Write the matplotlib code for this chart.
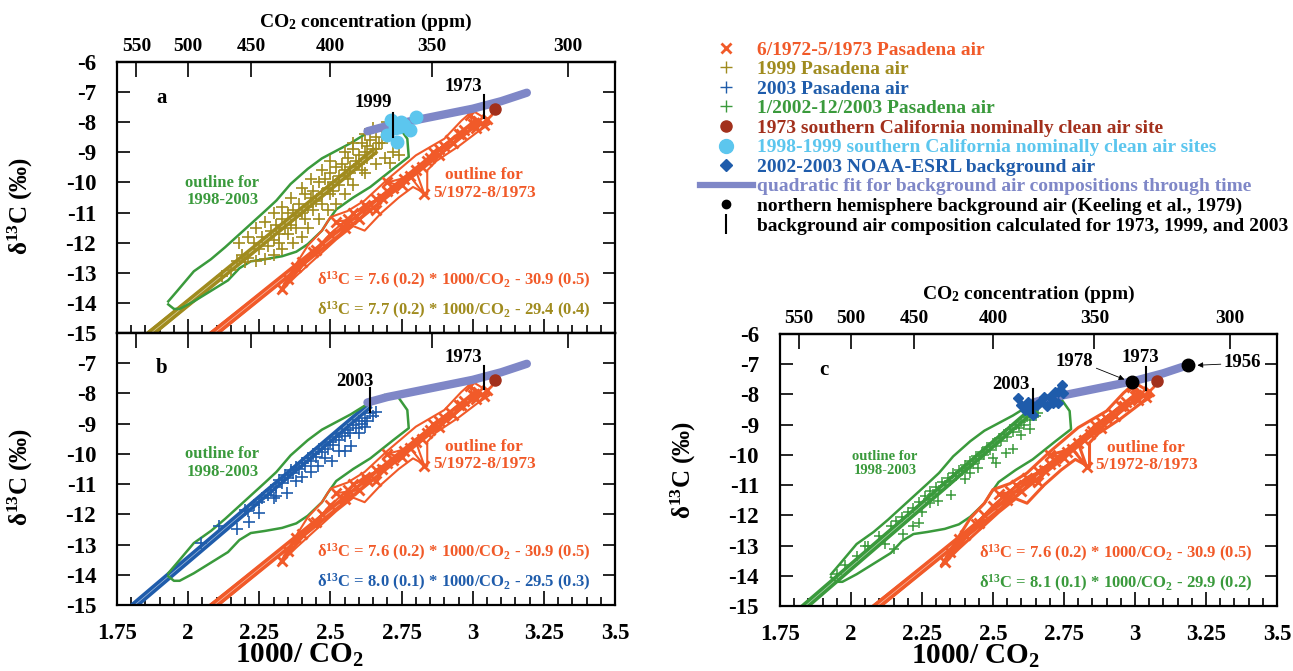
import numpy as np
import matplotlib
matplotlib.use("Agg")
import matplotlib.pyplot as plt
from matplotlib.lines import Line2D
from matplotlib.ticker import MultipleLocator, FuncFormatter, NullLocator

plt.rcParams["font.family"] = ["Liberation Serif", "DejaVu Serif"]
plt.rcParams["font.weight"] = "bold"
plt.rcParams["axes.labelweight"] = "bold"
plt.rcParams["mathtext.fontset"] = "custom"
plt.rcParams["mathtext.rm"] = "Liberation Serif:bold"
plt.rcParams["mathtext.it"] = "Liberation Serif:bold"
plt.rcParams["mathtext.bf"] = "Liberation Serif:bold"
plt.rcParams["axes.unicode_minus"] = False

ORANGE = "#F15A29"
OLIVE = "#A08B1E"
BLUE = "#1F5CAB"
GREEN = "#3A9A3C"
DARKRED = "#A2301C"
LIGHTBLUE = "#5CC6EE"
LAVENDER = "#7F87C7"

# ---- data ----
ppm_ticks = [550, 500, 450, 400, 350, 300]

# quadratic fit for background air through time
bg_x = [2.63, 2.70, 2.80, 2.90, 3.00, 3.10, 3.19]
bg_y = [-8.30, -8.12, -7.93, -7.74, -7.55, -7.30, -7.02]

# background composition markers: x, top, bottom
bgyear_x = {"1973": 3.04, "1999": 2.72, "2003": 2.64}
bgyear_top = {"1973": -7.10, "1999": -7.70, "2003": -7.82}
bgyear_bot = {"1973": -7.87, "1999": -8.50, "2003": -8.62}

# 1973 southern California clean air site
clean73_x = [3.077]
clean73_y = [-7.57]

# 1998-1999 southern California clean air sites
clean99_x = [2.712, 2.749, 2.78, 2.80, 2.70, 2.734, 2.74, 2.725, 2.76]
clean99_y = [-7.93, -7.99, -8.27, -7.82, -8.43, -8.65, -8.15, -8.20, -8.10]

# NOAA-ESRL background air 2002-2003
noaa_x = [2.589, 2.613, 2.642, 2.666, 2.701, 2.730, 2.742, 2.747, 2.730, 2.713,
          2.678, 2.655, 2.631, 2.690, 2.600, 2.624, 2.720, 2.710, 2.642]
noaa_y = [-8.13, -8.51, -8.40, -8.24, -8.07, -7.91, -7.69, -7.96, -8.29, -8.18,
          -8.07, -8.35, -8.57, -8.40, -8.35, -8.24, -7.91, -8.29, -8.68]

# Keeling et al. 1979 northern hemisphere background
keeling_x = [2.99, 3.188]
keeling_y = [-7.58, -7.03]

# outline for 1998-2003
out98_x = [1.93, 1.96, 2.02, 2.08, 2.13, 2.20, 2.27, 2.31, 2.36, 2.42, 2.47, 2.51,
           2.57, 2.63, 2.69, 2.74, 2.77, 2.775, 2.72, 2.64, 2.58, 2.52, 2.49, 2.47,
           2.42, 2.38, 2.33, 2.27, 2.22, 2.18, 2.14, 2.08, 2.02, 1.97, 1.95, 1.93]
out98_y = [-13.95, -13.62, -12.95, -12.55, -12.15, -11.55, -10.95, -10.60, -10.05,
           -9.55, -9.20, -9.00, -8.70, -8.35, -8.05, -8.15, -8.55, -9.15, -9.55,
           -10.15, -10.50, -10.90, -11.30, -11.60, -12.05, -12.30, -12.45, -12.55,
           -12.62, -12.85, -13.25, -13.60, -13.95, -14.20, -14.20, -14.05]

# outline for 5/1972-8/1973
out72_x = [2.32, 2.36, 2.42, 2.47, 2.50, 2.56, 2.62, 2.70, 2.80, 2.90, 2.96, 3.00,
           3.04, 3.06, 3.02, 2.95, 2.87, 2.84, 2.84, 2.79, 2.74, 2.68, 2.62, 2.58,
           2.52, 2.45, 2.38, 2.32]
out72_y = [-13.65, -13.00, -12.10, -11.60, -11.15, -10.95, -10.60, -9.90, -9.10,
           -8.55, -7.95, -7.62, -7.85, -8.05, -8.30, -8.80, -9.30, -9.60, -10.40,
           -10.15, -10.50, -11.00, -11.60, -11.45, -11.90, -12.50, -13.10, -13.65]

# 6/1972-5/1973 Pasadena air (time ordered)
pas72_x = [2.40, 2.45, 2.33, 2.47, 2.55, 2.52, 2.60, 2.58, 2.63, 2.66, 2.70, 2.66,
           2.72, 2.75, 2.70, 2.78, 2.83, 2.80, 2.85, 2.88, 2.84, 2.90, 2.92, 2.88,
           2.95, 2.97, 3.00, 2.99, 3.02, 3.04, 3.05, 3.01, 2.96, 2.93, 2.86, 2.82,
           2.76, 2.68, 2.62, 2.56, 2.50, 2.44, 2.38, 2.35]
pas72_y = [-12.65, -12.25, -13.55, -12.00, -11.50, -11.30, -11.20, -11.00, -10.85,
           -10.90, -10.30, -10.55, -10.20, -10.10, -10.00, -9.80, -10.40, -9.60,
           -9.20, -9.10, -9.30, -8.80, -8.60, -8.90, -8.40, -8.25, -8.05, -7.75,
           -7.95, -8.10, -7.90, -8.20, -8.40, -8.70, -9.00, -9.50, -9.90, -10.50,
           -10.75, -11.20, -11.70, -12.30, -12.80, -13.20]

# 1999 Pasadena air
pas99_x = [2.70, 2.68, 2.66, 2.67, 2.65, 2.64, 2.63, 2.62, 2.61, 2.60, 2.59, 2.58,
           2.57, 2.56, 2.55, 2.54, 2.53, 2.52, 2.51, 2.50, 2.49, 2.48, 2.47, 2.46,
           2.45, 2.44, 2.43, 2.42, 2.41, 2.40, 2.39, 2.38, 2.37, 2.36, 2.35, 2.34,
           2.33, 2.32, 2.31, 2.30, 2.29, 2.28, 2.26, 2.25, 2.23, 2.21, 2.19, 2.17,
           2.15, 2.12,
           2.72, 2.74, 2.71, 2.69, 2.66, 2.62, 2.58, 2.55, 2.52, 2.49, 2.46, 2.42,
           2.40, 2.37, 2.33, 2.30, 2.27, 2.24, 2.20,
           2.47, 2.50, 2.43, 2.40, 2.36, 2.33, 2.30, 2.27, 2.24, 2.21, 2.18, 2.62,
           2.65, 2.58, 2.55,
           2.60, 2.57, 2.53, 2.50, 2.47, 2.44, 2.41, 2.38, 2.35, 2.32, 2.63, 2.66,
           2.68, 2.61, 2.56, 2.51]
pas99_y = [-8.00, -8.30, -8.50, -8.70, -8.90, -8.60, -8.80, -9.00, -8.70, -9.10,
           -9.30, -8.90, -9.50, -9.20, -9.60, -9.40, -9.80, -9.50, -10.00, -9.70,
           -10.20, -9.90, -10.40, -10.00, -10.60, -10.30, -10.50, -10.80, -10.40,
           -11.00, -10.70, -11.10, -10.90, -11.40, -11.00, -11.50, -11.20, -11.70,
           -11.40, -11.90, -11.60, -12.10, -11.80, -12.20, -12.00, -12.50, -12.40,
           -12.60, -12.90, -13.10,
           -9.00, -9.10, -9.35, -9.20, -9.40, -9.70, -10.10, -10.40, -10.70, -10.90,
           -11.20, -11.50, -11.80, -12.00, -12.20, -12.40, -12.55, -12.60, -12.65,
           -9.60, -9.30, -9.90, -10.20, -10.50, -10.80, -11.00, -11.30, -11.50,
           -11.80, -12.00, -8.40, -8.20, -8.70, -9.00,
           -9.40, -9.70, -10.10, -10.40, -10.70, -10.90, -11.20, -11.50, -11.70,
           -12.00, -9.20, -8.90, -8.70, -9.60, -9.90, -10.30]

# 2003 Pasadena air
pas03_x = [2.66, 2.65, 2.64, 2.63, 2.62, 2.61, 2.60, 2.59, 2.58, 2.57, 2.56, 2.55,
           2.54, 2.53, 2.52, 2.51, 2.50, 2.49, 2.48, 2.47, 2.46, 2.45, 2.44, 2.43,
           2.42, 2.41, 2.40, 2.39, 2.38, 2.37, 2.36, 2.35, 2.34, 2.33, 2.32, 2.31,
           2.29, 2.28, 2.26, 2.25, 2.23, 2.21, 2.20,
           2.573, 2.55, 2.507, 2.456, 2.43, 2.346, 2.302, 2.214, 2.17, 2.11, 2.046,
           2.60, 2.62, 2.53, 2.48, 2.40, 2.38, 2.31, 2.25]
pas03_y = [-8.60, -8.75, -8.65, -8.90, -8.80, -9.00, -8.90, -9.15, -9.05, -9.30,
           -9.20, -9.40, -9.30, -9.55, -9.45, -9.70, -9.60, -9.85, -9.70, -9.95,
           -9.85, -10.10, -10.00, -10.25, -10.15, -10.40, -10.30, -10.50, -10.45,
           -10.65, -10.55, -10.80, -10.70, -10.95, -10.85, -11.10, -11.20, -11.35,
           -11.45, -11.60, -11.70, -11.90, -11.85,
           -9.73, -9.92, -10.25, -10.41, -10.60, -11.29, -11.46, -12.27, -12.50,
           -12.40, -12.95, -9.30, -9.10, -9.90, -10.15, -10.75, -10.90, -11.40,
           -11.95]

# 1/2002-12/2003 Pasadena air
pas0203_x = [2.66, 2.65, 2.64, 2.63, 2.62, 2.61, 2.60, 2.59, 2.58, 2.57, 2.56, 2.55,
             2.54, 2.53, 2.52, 2.51, 2.50, 2.49, 2.48, 2.47, 2.46, 2.45, 2.44, 2.43,
             2.42, 2.41, 2.40, 2.39, 2.38, 2.37, 2.36, 2.35, 2.34, 2.33, 2.32, 2.31,
             2.30, 2.29, 2.28, 2.27, 2.26, 2.24, 2.22, 2.20, 2.18, 2.16, 2.14, 2.10,
             2.06, 2.02, 1.98, 1.95,
             2.632, 2.57, 2.545, 2.51, 2.449, 2.42, 2.354, 2.306, 2.28, 2.238, 2.218,
             2.184, 2.15, 2.05, 2.60, 2.50, 2.40, 2.25, 2.12]
pas0203_y = [-8.60, -8.70, -8.55, -8.85, -8.75, -9.00, -8.90, -9.10, -9.00, -9.25,
             -9.15, -9.40, -9.30, -9.55, -9.45, -9.70, -9.60, -9.85, -9.75, -10.00,
             -9.90, -10.15, -10.05, -10.30, -10.20, -10.45, -10.35, -10.55, -10.50,
             -10.70, -10.60, -10.85, -10.75, -11.00, -10.90, -11.15, -11.05, -11.30,
             -11.20, -11.45, -11.35, -11.55, -11.75, -11.90, -12.05, -12.20, -12.35,
             -12.70, -13.00, -13.35, -13.65, -13.94,
             -9.15, -9.80, -9.94, -10.27, -10.44, -10.60, -11.32, -11.53, -11.60,
             -12.25, -12.36, -12.63, -13.13, -13.00, -9.35, -10.10, -10.80, -11.90,
             -12.95]

# regression fits: slope, intercept, slope error
fit72 = (7.6, -30.9, 0.2)
fit99 = (7.7, -29.4, 0.2)
fit03 = (8.0, -29.5, 0.1)
fit0203 = (8.1, -29.9, 0.1)

eq72 = "δ$^{13}$C = 7.6 (0.2) * 1000/CO$_2$ - 30.9 (0.5)"
eq99 = "δ$^{13}$C = 7.7 (0.2) * 1000/CO$_2$ - 29.4 (0.4)"
eq03 = "δ$^{13}$C = 8.0 (0.1) * 1000/CO$_2$ - 29.5 (0.3)"
eq0203 = "δ$^{13}$C = 8.1 (0.1) * 1000/CO$_2$ - 29.9 (0.2)"


def to_ppm(v):
    v = np.asarray(v, dtype=float)
    with np.errstate(divide="ignore", invalid="ignore"):
        return 1000.0 / v


def fit_band(ax, fit, x0, x1, xpiv, color, lw=5.5):
    s, b, e = fit
    xs = np.array([x0, x1])
    ypiv = s * xpiv + b
    ax.plot(xs, s * xs + b, color=color, lw=lw, solid_capstyle="butt", zorder=2)
    for ss in (s - e, s + e):
        ax.plot(xs, ypiv + ss * (xs - xpiv), color=color, lw=1.6, zorder=2)
    ax.plot(xs, s * xs + b, color="white", lw=0.5, alpha=0.6, zorder=2)


def style_axes(ax, xlabels=True, toplabels=True, hide_top_y=False):
    ax.set_xlim(1.75, 3.5)
    ax.set_ylim(-15, -6)
    ax.xaxis.set_major_locator(MultipleLocator(0.25))
    ax.xaxis.set_minor_locator(MultipleLocator(0.05))
    ax.yaxis.set_major_locator(MultipleLocator(1))
    ax.tick_params(axis="x", which="major", direction="in", length=10, width=1.2,
                   top=False, labelsize=16.5, pad=13, labelbottom=xlabels)
    ax.tick_params(axis="x", which="minor", direction="in", length=5.5, width=1.2,
                   top=False)
    ax.tick_params(axis="y", direction="in", length=9, width=1.2, left=True,
                   right=True, labelsize=16.5, pad=15)
    ax.xaxis.set_major_formatter(FuncFormatter(lambda v, p: "%g" % v))
    if hide_top_y:
        ax.yaxis.set_major_formatter(
            FuncFormatter(lambda v, p: "" if v > -6.5 else "%g" % v))
    else:
        ax.yaxis.set_major_formatter(FuncFormatter(lambda v, p: "%g" % v))
    for lab in ax.get_xticklabels() + ax.get_yticklabels():
        lab.set_fontweight("bold")
    for sp in ax.spines.values():
        sp.set_linewidth(1.6)
    sec = ax.secondary_xaxis("top", functions=(to_ppm, to_ppm))
    sec.set_xticks(ppm_ticks)
    sec.xaxis.set_minor_locator(NullLocator())
    sec.xaxis.set_major_formatter(FuncFormatter(lambda v, p: "%d" % round(v)))
    sec.tick_params(direction="in", length=11, width=1.2, labelsize=14, pad=5,
                    labeltop=toplabels)
    sec.spines["top"].set_linewidth(1.6)
    return sec


def common(ax, orange_lw=1.5):
    ax.plot(out98_x, out98_y, color=GREEN, lw=1.8, zorder=3)
    fit_band(ax, fit72, 1.75, 3.02, 2.7, ORANGE)
    ax.plot(out72_x, out72_y, color=ORANGE, lw=orange_lw, zorder=3)
    ax.plot(pas72_x, pas72_y, color=ORANGE, lw=orange_lw, marker="x", ms=7,
            mew=2, zorder=3)
    ax.plot(bg_x, bg_y, color=LAVENDER, lw=6, solid_capstyle="round", zorder=5)
    ax.plot(clean73_x, clean73_y, "o", color=DARKRED, ms=8, zorder=6)


def year_line(ax, yr, tx, ty):
    ax.plot([bgyear_x[yr], bgyear_x[yr]], [bgyear_top[yr], bgyear_bot[yr]],
            color="black", lw=1.5, zorder=8)
    if tx is not None:
        ax.text(tx, ty, yr, fontsize=13.5, ha="center", va="center", zorder=9)


def texts(ax, eq2, eq2color, outline_fs=12):
    ax.text(2.12, -10.3, "outline for\n1998-2003", color=GREEN, fontsize=outline_fs,
            ha="center", va="center", linespacing=1.1)
    ax.text(3.04, -10.05, "outline for\n5/1972-8/1973", color=ORANGE, fontsize=12.5,
            ha="center", va="center", linespacing=1.1)
    ax.text(3.415, -13.25, eq72, color=ORANGE, fontsize=12, ha="right", va="center")
    ax.text(3.415, -14.25, eq2, color=eq2color, fontsize=12, ha="right", va="center")


fig = plt.figure(figsize=(12.93, 6.71), dpi=100)
ax_a = fig.add_axes([0.0905, 0.5037, 0.3852, 0.4039])
ax_b = fig.add_axes([0.0905, 0.0984, 0.3852, 0.4054])
ax_c = fig.add_axes([0.6032, 0.0969, 0.3844, 0.4054])

ylab = "δ$^{13}$C (‰)"
xlab = "1000/ CO$_2$"
toplab = "CO$_2$ concentration (ppm)"

# panel a
sec_a = style_axes(ax_a, xlabels=False)
sec_a.set_xlabel(toplab, fontsize=14, labelpad=8)
fit_band(ax_a, fit99, 1.75, 2.66, 2.45, OLIVE)
common(ax_a)
ax_a.plot(pas99_x, pas99_y, "+", color=OLIVE, ms=9, mew=1.2, zorder=4)
ax_a.plot(clean99_x, clean99_y, "o", color=LIGHTBLUE, ms=9, zorder=6)
year_line(ax_a, "1973", 2.968, -6.81)
year_line(ax_a, "1999", 2.649, -7.36)
ax_a.text(1.905, -7.2, "a", fontsize=15, ha="center", va="center")
texts(ax_a, eq99, OLIVE)
ax_a.set_ylabel(ylab, fontsize=18)
ax_a.yaxis.set_label_coords(-0.165, 0.47)

# panel b
style_axes(ax_b, toplabels=False, hide_top_y=True)
fit_band(ax_b, fit03, 1.75, 2.64, 2.45, BLUE)
common(ax_b)
ax_b.plot(pas03_x, pas03_y, "+", color=BLUE, ms=8, mew=1.2, zorder=4)
year_line(ax_b, "1973", 2.968, -6.8)
year_line(ax_b, "2003", 2.587, -7.6)
ax_b.text(1.905, -7.16, "b", fontsize=15, ha="center", va="center")
texts(ax_b, eq03, BLUE)
ax_b.set_ylabel(ylab, fontsize=18)
ax_b.yaxis.set_label_coords(-0.165, 0.47)
ax_b.set_xlabel(xlab, fontsize=21)
ax_b.xaxis.set_label_coords(0.367, -0.135)

# panel c
sec_c = style_axes(ax_c)
sec_c.set_xlabel(toplab, fontsize=14, labelpad=8)
fit_band(ax_c, fit0203, 1.75, 2.66, 2.4, GREEN)
common(ax_c, orange_lw=2.2)
ax_c.plot(pas0203_x, pas0203_y, "+", color=GREEN, ms=7, mew=1.1, zorder=4)
ax_c.plot(noaa_x, noaa_y, "D", color=BLUE, ms=5, zorder=6)
ax_c.plot(keeling_x, keeling_y, "o", color="black", ms=9, zorder=7)
year_line(ax_c, "1973", 3.018, -6.77)
year_line(ax_c, "2003", 2.564, -7.68)
ax_c.annotate("1978", xy=(2.972, -7.54), xytext=(2.788, -6.9), fontsize=13.5,
              ha="center", va="center", zorder=9,
              arrowprops=dict(arrowstyle="-|>", color="black", lw=0.6,
                              mutation_scale=8, relpos=(1.0, 0.15), shrinkA=0,
                              shrinkB=2))
ax_c.annotate("1956", xy=(3.21, -7.04), xytext=(3.378, -6.94), fontsize=13.5,
              ha="center", va="center", zorder=9,
              arrowprops=dict(arrowstyle="-|>", color="black", lw=0.6,
                              mutation_scale=8, relpos=(0.0, 0.4), shrinkA=0,
                              shrinkB=2))
ax_c.text(1.906, -7.19, "c", fontsize=15, ha="center", va="center")
texts(ax_c, eq0203, GREEN, outline_fs=10.5)
ax_c.set_ylabel(ylab, fontsize=18)
ax_c.yaxis.set_label_coords(-0.165, 0.5)
ax_c.set_xlabel(xlab, fontsize=21)
ax_c.xaxis.set_label_coords(0.394, -0.135)

# legend
leg_labels = ["6/1972-5/1973 Pasadena air", "1999 Pasadena air", "2003 Pasadena air",
              "1/2002-12/2003 Pasadena air",
              "1973 southern California nominally clean air site",
              "1998-1999 southern California nominally clean air sites",
              "2002-2003 NOAA-ESRL background air",
              "quadratic fit for background air compositions through time",
              "northern hemisphere background air (Keeling et al., 1979)",
              "background air composition calculated for 1973, 1999, and 2003"]
leg_colors = [ORANGE, OLIVE, BLUE, GREEN, DARKRED, LIGHTBLUE, BLUE, LAVENDER,
              "black", "black"]
handles = [
    Line2D([], [], ls="none", marker="x", color=ORANGE, ms=7, mew=2),
    Line2D([], [], ls="none", marker="+", color=OLIVE, ms=9, mew=1),
    Line2D([], [], ls="none", marker="+", color=BLUE, ms=9, mew=1),
    Line2D([], [], ls="none", marker="+", color=GREEN, ms=9, mew=1),
    Line2D([], [], ls="none", marker="o", color=DARKRED, ms=8),
    Line2D([], [], ls="none", marker="o", color=LIGHTBLUE, ms=10),
    Line2D([], [], ls="none", marker="D", color=BLUE, ms=6),
    Line2D([], [], color=LAVENDER, lw=4.5),
    Line2D([], [], ls="none", marker="o", color="black", ms=6),
    Line2D([], [], ls="none", marker="|", color="black", ms=15, mew=1.5),
]
fig.legend(handles, leg_labels, loc="upper left", bbox_to_anchor=(0.5414, 0.939),
           frameon=False, fontsize=14, labelspacing=0.1, handlelength=2.7,
           handletextpad=0.25, borderpad=0, borderaxespad=0, labelcolor=leg_colors)

fig.savefig("out.png", dpi=100)
